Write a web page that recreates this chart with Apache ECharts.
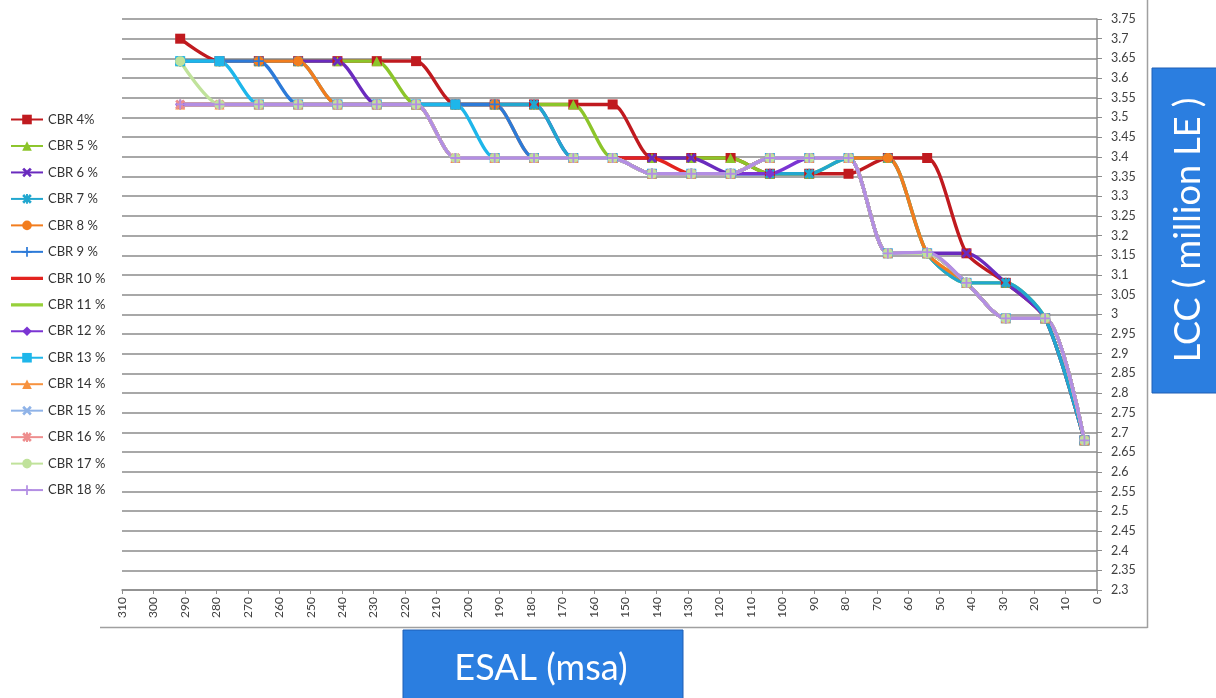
<!DOCTYPE html>
<html>
<head>
<meta charset="utf-8">
<script src="https://cdn.jsdelivr.net/npm/echarts@6/dist/echarts.min.js"></script>
<style>
html,body{margin:0;padding:0;background:#fff;}
#chart{width:1216px;height:698px;}
</style>
</head>
<body>
<div id="chart"></div>
<script>
// ESAL (msa) positions of the data points
const esal = [291.5, 279, 266.5, 254, 241.5, 229, 216.5, 204, 191.5, 179, 166.5, 154, 141.5, 129, 116.5, 104, 91.5, 79, 66.5, 54, 41.5, 29, 16.5, 4];

// LCC (million LE) per CBR
const cbr4  = [3.70, 3.643, 3.643, 3.643, 3.643, 3.643, 3.643, 3.533, 3.533, 3.533, 3.533, 3.533, 3.397, 3.397, 3.397, 3.357, 3.357, 3.357, 3.397, 3.397, 3.155, 3.08, 2.99, 2.68];
const cbr5  = [3.643, 3.643, 3.643, 3.643, 3.643, 3.643, 3.533, 3.533, 3.533, 3.533, 3.533, 3.397, 3.397, 3.397, 3.397, 3.357, 3.357, 3.397, 3.397, 3.155, 3.08, 3.08, 2.99, 2.68];
const cbr6  = [3.643, 3.643, 3.643, 3.643, 3.643, 3.533, 3.533, 3.533, 3.533, 3.533, 3.397, 3.397, 3.397, 3.397, 3.357, 3.397, 3.397, 3.397, 3.155, 3.155, 3.155, 3.08, 2.99, 2.68];
const cbr7  = [3.643, 3.643, 3.643, 3.643, 3.533, 3.533, 3.533, 3.533, 3.533, 3.533, 3.397, 3.397, 3.357, 3.357, 3.357, 3.357, 3.357, 3.397, 3.397, 3.155, 3.08, 3.08, 2.99, 2.68];
const cbr8  = [3.643, 3.643, 3.643, 3.643, 3.533, 3.533, 3.533, 3.533, 3.533, 3.397, 3.397, 3.397, 3.357, 3.357, 3.357, 3.397, 3.397, 3.397, 3.397, 3.155, 3.08, 2.99, 2.99, 2.68];
const cbr9  = [3.643, 3.643, 3.643, 3.533, 3.533, 3.533, 3.533, 3.533, 3.533, 3.397, 3.397, 3.397, 3.357, 3.357, 3.357, 3.397, 3.397, 3.397, 3.155, 3.155, 3.08, 2.99, 2.99, 2.68];
const cbr10 = [3.533, 3.533, 3.533, 3.533, 3.533, 3.533, 3.533, 3.397, 3.397, 3.397, 3.397, 3.397, 3.397, 3.357, 3.357, 3.397, 3.397, 3.397, 3.155, 3.155, 3.08, 2.99, 2.99, 2.68];
const cbr11 = [3.533, 3.533, 3.533, 3.533, 3.533, 3.533, 3.533, 3.397, 3.397, 3.397, 3.397, 3.397, 3.357, 3.357, 3.357, 3.397, 3.397, 3.397, 3.155, 3.155, 3.08, 2.99, 2.99, 2.68];
const cbr12 = [3.533, 3.533, 3.533, 3.533, 3.533, 3.533, 3.533, 3.397, 3.397, 3.397, 3.397, 3.397, 3.357, 3.357, 3.357, 3.357, 3.397, 3.397, 3.155, 3.155, 3.08, 2.99, 2.99, 2.68];
const cbr13 = [3.643, 3.643, 3.533, 3.533, 3.533, 3.533, 3.533, 3.533, 3.397, 3.397, 3.397, 3.397, 3.357, 3.357, 3.357, 3.397, 3.397, 3.397, 3.155, 3.155, 3.08, 2.99, 2.99, 2.68];
const cbr14 = [3.533, 3.533, 3.533, 3.533, 3.533, 3.533, 3.533, 3.397, 3.397, 3.397, 3.397, 3.397, 3.357, 3.357, 3.357, 3.397, 3.397, 3.397, 3.155, 3.155, 3.08, 2.99, 2.99, 2.68];
const cbr15 = [3.533, 3.533, 3.533, 3.533, 3.533, 3.533, 3.533, 3.397, 3.397, 3.397, 3.397, 3.397, 3.357, 3.357, 3.357, 3.397, 3.397, 3.397, 3.155, 3.155, 3.08, 2.99, 2.99, 2.68];
const cbr16 = [3.533, 3.533, 3.533, 3.533, 3.533, 3.533, 3.533, 3.397, 3.397, 3.397, 3.397, 3.397, 3.357, 3.357, 3.357, 3.397, 3.397, 3.397, 3.155, 3.155, 3.08, 2.99, 2.99, 2.68];
const cbr17 = [3.643, 3.533, 3.533, 3.533, 3.533, 3.533, 3.533, 3.397, 3.397, 3.397, 3.397, 3.397, 3.357, 3.357, 3.357, 3.397, 3.397, 3.397, 3.155, 3.155, 3.08, 2.99, 2.99, 2.68];
const cbr18 = [3.533, 3.533, 3.533, 3.533, 3.533, 3.533, 3.533, 3.397, 3.397, 3.397, 3.397, 3.397, 3.357, 3.357, 3.357, 3.397, 3.397, 3.397, 3.155, 3.158, 3.08, 2.99, 2.99, 2.68];

const names = ['CBR 4%', 'CBR 5 %', 'CBR 6 %', 'CBR 7 %', 'CBR 8 %', 'CBR 9 %', 'CBR 10 %', 'CBR 11 %', 'CBR 12 %', 'CBR 13 %', 'CBR 14 %', 'CBR 15 %', 'CBR 16 %', 'CBR 17 %', 'CBR 18 %'];
const values = [cbr4, cbr5, cbr6, cbr7, cbr8, cbr9, cbr10, cbr11, cbr12, cbr13, cbr14, cbr15, cbr16, cbr17, cbr18];

const X = 'path://M0,2L2,0L5,3L8,0L10,2L7,5L10,8L8,10L5,7L2,10L0,8L3,5Z';
const PLUS = 'path://M4.1,0L5.9,0L5.9,4.1L10,4.1L10,5.9L5.9,5.9L5.9,10L4.1,10L4.1,5.9L0,5.9L0,4.1L4.1,4.1Z';
const STAR = 'path://M0,2L2,0L5,3L8,0L10,2L7,5L10,8L8,10L5,7L2,10L0,8L3,5ZM4,0L6,0L6,10L4,10Z';
// plain line legend icon (tiny corner specks fix the bounding box)
const PLAIN = 'path://M0,0L0.01,0L0.01,0.01ZM0,4.4L32,4.4L32,7.6L0,7.6ZM31.99,11.99L32,11.99L32,12Z';

const colors  = ['#C01A1F', '#8CC52A', '#6A2BBE', '#22A7CF', '#F27D1E', '#2C7AD8', '#E3231F', '#97D03A', '#7B35D3', '#1EB6EA', '#F7923F', '#8FB3E8', '#EE8E8E', '#C0E29B', '#B38EE3'];
const symbols = ['rect', 'triangle', X, STAR, 'circle', PLUS, 'none', 'none', 'diamond', 'rect', 'triangle', X, STAR, 'circle', PLUS];
const sizes   = [10, 10, 10, 10, 10, 10, 0, 0, 10, 10, 10, 9, 10, 10, 10];

const chart = echarts.init(document.getElementById('chart'), null, {renderer: 'canvas'});
const FONT = 'Lato, "Liberation Sans", sans-serif';

const series = names.map((n, k) => ({
  name: n,
  type: 'line',
  smooth: 0.25,
  data: esal.map((x, i) => [x, values[k][i]]),
  symbol: symbols[k],
  symbolSize: sizes[k],
  showSymbol: symbols[k] !== 'none',
  lineStyle: {width: 3.4, color: colors[k]},
  itemStyle: {color: colors[k], borderWidth: 0},
  emphasis: {disabled: true}
}));

const legendData = names.map((n, k) => symbols[k] === 'none' ? {name: n, icon: PLAIN} : {name: n});

chart.setOption({
  animation: false,
  backgroundColor: '#ffffff',
  color: colors,
  grid: {left: 122, right: 119, top: 19, bottom: 108, containLabel: false},
  legend: {
    orient: 'vertical', left: 5, top: 108,
    itemWidth: 32, itemHeight: 12, itemGap: 13.47,
    textStyle: {fontSize: 13, color: '#333', fontFamily: FONT},
    data: legendData
  },
  xAxis: {
    type: 'value', inverse: true, min: 0, max: 310, interval: 10,
    axisLine: {show: true, lineStyle: {color: '#8c8c8c', width: 1.5}},
    axisTick: {show: true, length: 4, lineStyle: {color: '#8c8c8c'}},
    splitLine: {show: false},
    axisLabel: {rotate: 90, fontSize: 12, color: '#404040', fontFamily: FONT, margin: 7}
  },
  yAxis: {
    type: 'value', position: 'right', min: 2.3, max: 3.75, interval: 0.05,
    axisLine: {show: true, lineStyle: {color: '#8c8c8c', width: 1.5}},
    axisTick: {show: true, length: 5, lineStyle: {color: '#8c8c8c'}},
    splitLine: {show: true, lineStyle: {color: '#a8a8a8', width: 2}},
    axisLabel: {fontSize: 12.5, color: '#404040', fontFamily: FONT, margin: 14,
      formatter: v => String(+v.toFixed(2))}
  },
  graphic: [
    {type: 'line', shape: {x1: 1147.5, y1: 0, x2: 1147.5, y2: 628}, style: {stroke: '#a0a0a0', lineWidth: 1.5}, silent: true},
    {type: 'line', shape: {x1: 100, y1: 627.5, x2: 1147.5, y2: 627.5}, style: {stroke: '#a0a0a0', lineWidth: 1.5}, silent: true},
    {type: 'rect', shape: {x: 1152, y: 68, width: 70, height: 325}, style: {fill: '#2B7EE0', stroke: '#1F5FB5', lineWidth: 1}, silent: true},
    {type: 'text', x: 1188, y: 230, rotation: Math.PI / 2,
      style: {text: 'LCC ( million LE )', fill: '#ffffff', font: '36px ' + FONT, align: 'center', verticalAlign: 'middle'}, silent: true},
    {type: 'rect', shape: {x: 403, y: 630, width: 280, height: 75}, style: {fill: '#2B7EE0', stroke: '#1F5FB5', lineWidth: 1}, silent: true},
    {type: 'text', x: 541, y: 668,
      style: {text: 'ESAL (msa)', fill: '#ffffff', font: '36px ' + FONT, align: 'center', verticalAlign: 'middle'}, silent: true}
  ],
  series: series
});
</script>
</body>
</html>
